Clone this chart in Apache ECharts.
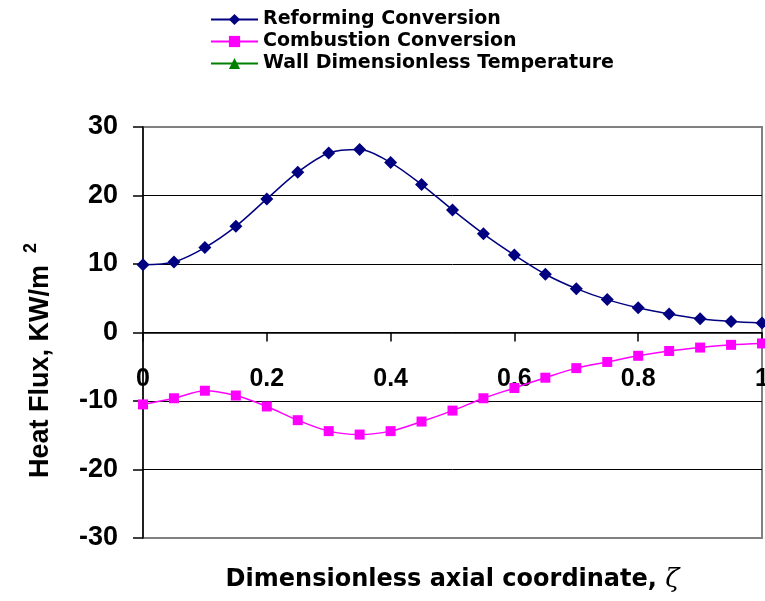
<!DOCTYPE html>
<html>
<head>
<meta charset="utf-8">
<script src="https://cdn.jsdelivr.net/npm/echarts@6/dist/echarts.min.js"></script>
<style>html,body{margin:0;padding:0;background:#fff;}#c{width:765px;height:601px;}</style>
</head>
<body>
<div id="c"></div>
<script>
var zeta = [0,0.05,0.1,0.15,0.2,0.25,0.3,0.35,0.4,0.45,0.5,0.55,0.6,0.65,0.7,0.75,0.8,0.85,0.9,0.95,1];
var reforming = [9.9,10.3,12.4,15.5,19.5,23.4,26.2,26.7,24.8,21.6,17.9,14.4,11.3,8.5,6.4,4.8,3.6,2.7,2.0,1.6,1.4];
var combustion = [-10.5,-9.6,-8.5,-9.2,-10.8,-12.8,-14.4,-14.9,-14.4,-13.0,-11.4,-9.6,-8.1,-6.6,-5.2,-4.3,-3.4,-2.7,-2.2,-1.8,-1.6];
var wallTemp = [];
var seriesNames = ['Reforming Conversion','Combustion Conversion','Wall Dimensionless Temperature'];
var xTicks = [0,0.2,0.4,0.6,0.8,1];
var yTicks = [-30,-20,-10,0,10,20,30];

function pairs(xs, ys){ return ys.map(function(v,i){ return [xs[i], v]; }); }
var FONT = 'Arial, "Liberation Sans", sans-serif';
var WIDE = '"DejaVu Sans", sans-serif';

var chart = echarts.init(document.getElementById('c'), null, {renderer:'canvas'});
chart.setOption({
  animation:false,
  backgroundColor:'#fff',
  textStyle:{fontFamily:FONT},
  legend:{
    orient:'vertical', left:205, top:5, itemWidth:47, itemHeight:14, itemGap:3,
    data:seriesNames,
    textStyle:{fontFamily:WIDE, fontWeight:'bold', fontSize:19, color:'#000'}
  },
  grid:{left:143, right:3, top:127, bottom:63, show:true, borderColor:'#808080', borderWidth:2,
        containLabel:false, outerBoundsMode:'none'},
  xAxis:{
    type:'value', min:xTicks[0], max:xTicks[xTicks.length-1], interval:0.2,
    axisLine:{onZero:true, lineStyle:{color:'#000', width:1.5}},
    axisTick:{show:true, length:9, lineStyle:{color:'#000', width:1.5}},
    axisLabel:{margin:-171, fontFamily:FONT, fontWeight:'bold', fontSize:25, color:'#000',
      formatter:function(v){ return String(Math.round(v*10)/10); }},
    splitLine:{show:false},
    name:'{a|Dimensionless axial coordinate, }{z|ζ}',
    nameLocation:'middle', nameGap:29,
    nameTextStyle:{rich:{
      a:{fontFamily:WIDE, fontWeight:'bold', fontSize:24, color:'#000'},
      z:{fontFamily:'"DejaVu Serif", serif', fontStyle:'italic', fontSize:26, color:'#000'}
    }}
  },
  yAxis:{
    type:'value', min:yTicks[0], max:yTicks[yTicks.length-1], interval:10,
    axisLine:{onZero:false, lineStyle:{color:'#000', width:1.5}},
    axisTick:{show:true, length:10, lineStyle:{color:'#000', width:1.5}},
    axisLabel:{margin:25, fontFamily:FONT, fontWeight:'bold', fontSize:27, color:'#000'},
    splitLine:{show:true, lineStyle:{color:'#000', width:1},
      showMinLine:false, showMaxLine:false},
    name:'{a|Heat Flux, KW/m}{s|2}',
    nameLocation:'middle', nameGap:84, nameRotate:90,
    nameTextStyle:{padding:[0,56,0,0], rich:{
      a:{fontFamily:FONT, fontWeight:'bold', fontSize:27, color:'#000'},
      s:{fontFamily:FONT, fontWeight:'bold', fontSize:18, color:'#000', padding:[0,0,19,12]}
    }}
  },
  series:[
    {name:seriesNames[0], type:'line', data:pairs(zeta, reforming), smooth:0.3,
     symbol:'diamond', symbolSize:13, color:'#000080',
     lineStyle:{color:'#000080', width:1.5}, itemStyle:{color:'#000080'}},
    {name:seriesNames[1], type:'line', data:pairs(zeta, combustion), smooth:0.3,
     symbol:'rect', symbolSize:10, color:'#FF00FF',
     lineStyle:{color:'#FF00FF', width:1.5}, itemStyle:{color:'#FF00FF'}},
    {name:seriesNames[2], type:'line', data:pairs(zeta, wallTemp),
     symbol:'triangle', symbolSize:12, color:'#008000',
     lineStyle:{color:'#008000', width:1.5}, itemStyle:{color:'#008000'}}
  ]
});
</script>
</body>
</html>
